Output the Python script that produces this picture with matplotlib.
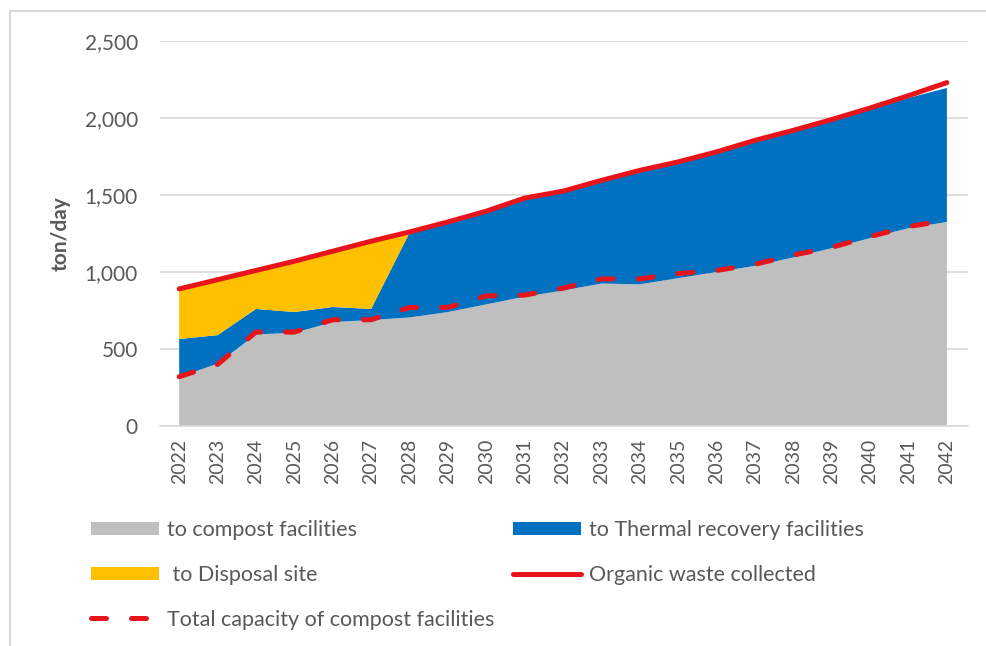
import numpy as np
import matplotlib.pyplot as plt
from matplotlib.patches import Patch, Rectangle
from matplotlib.lines import Line2D

plt.rcParams['font.family'] = ['Lato', 'DejaVu Sans']

years = list(range(2022, 2043))

# tonnes per day going to each destination (stacked)
compost = [318, 405, 595, 605, 675, 688, 705, 740, 790, 840, 880, 925, 920, 960,
           1000, 1040, 1095, 1155, 1220, 1285, 1325]
thermal = [247, 185, 165, 135, 98, 72, 550, 580, 600, 635, 640, 665, 735, 750,
           775, 805, 815, 825, 835, 845, 870]
disposal = [325, 360, 250, 330, 362, 440, 0, 0, 0, 0, 0, 0, 0, 0,
            0, 0, 0, 0, 0, 0, 0]

organic = [890, 950, 1010, 1070, 1135, 1200, 1260, 1325, 1395, 1480, 1525, 1595,
           1660, 1715, 1780, 1855, 1920, 1990, 2065, 2145, 2230]
capacity = [320, 400, 610, 610, 690, 690, 770, 770, 845, 850, 895, 955, 955, 990,
            1010, 1050, 1110, 1160, 1230, 1295, 1335]

c_gray = '#BFBFBF'
c_blue = '#0070C0'
c_yellow = '#FFC000'
c_red = '#E8141C'
txt = '#595959'
dash = (3.0, 5.0)

fig = plt.figure(figsize=(9.87, 6.46), dpi=100)
# thin frame around the chart
fig.patches.append(Rectangle((10/987, -0.01), 1.0, 1 - 11/646 + 0.01,
                             transform=fig.transFigure, fill=False,
                             edgecolor='#D9D9D9', linewidth=1.5))

ax = fig.add_axes([160/987, 1 - 426/646, (968 - 160)/987, (426 - 41)/646])

ax.stackplot(years, compost, thermal, disposal,
             colors=[c_gray, c_blue, c_yellow], linewidth=0)
ax.plot(years, organic, color=c_red, lw=3.6, solid_capstyle='round')
ax.plot(years, capacity, color=c_red, lw=3.6, dashes=dash,
        dash_capstyle='round')

ax.set_xlim(2021.5, 2042.55)
ax.set_ylim(0, 2500)
ax.set_yticks(np.arange(0, 2501, 500))
ax.yaxis.set_major_formatter(plt.FuncFormatter(lambda v, p: f'{int(v):,}'))
ax.set_xticks(years)
ax.set_xticklabels([str(y) for y in years], rotation=90)
ax.tick_params(axis='both', length=0, labelsize=15, colors=txt)
ax.tick_params(axis='x', labelsize=14, pad=9)
ax.tick_params(axis='y', pad=16)
ax.grid(axis='y', color='#D9D9D9', lw=1.2)
ax.set_axisbelow(True)
for s in ['top', 'right', 'left']:
    ax.spines[s].set_visible(False)
ax.spines['bottom'].set_color('#D9D9D9')
ax.spines['bottom'].set_linewidth(1.2)
ax.set_ylabel('ton/day', fontsize=15, color=txt, fontweight='bold',
              labelpad=10)

leg_kw = dict(loc='upper left', frameon=False, fontsize=15.5, labelcolor=txt,
              handlelength=3.15, handleheight=0.56, handletextpad=0.37,
              labelspacing=1.15, borderpad=0, borderaxespad=0)

left_handles = [
    Patch(facecolor=c_gray, edgecolor='none'),
    Patch(facecolor=c_yellow, edgecolor='none'),
    Line2D([], [], color=c_red, lw=3.6, dashes=dash, dash_capstyle='round'),
]
left_labels = ['to compost facilities', ' to Disposal site',
               'Total capacity of compost facilities']
right_handles = [
    Patch(facecolor=c_blue, edgecolor='none'),
    Line2D([], [], color=c_red, lw=3.6, solid_capstyle='round'),
]
right_labels = ['to Thermal recovery facilities', 'Organic waste collected']

fig.legend(left_handles, left_labels,
           bbox_to_anchor=(91/987, 1 - 520/646), **leg_kw)
fig.legend(right_handles, right_labels,
           bbox_to_anchor=(513/987, 1 - 520/646), **leg_kw)

fig.savefig('out.png', dpi=100)
